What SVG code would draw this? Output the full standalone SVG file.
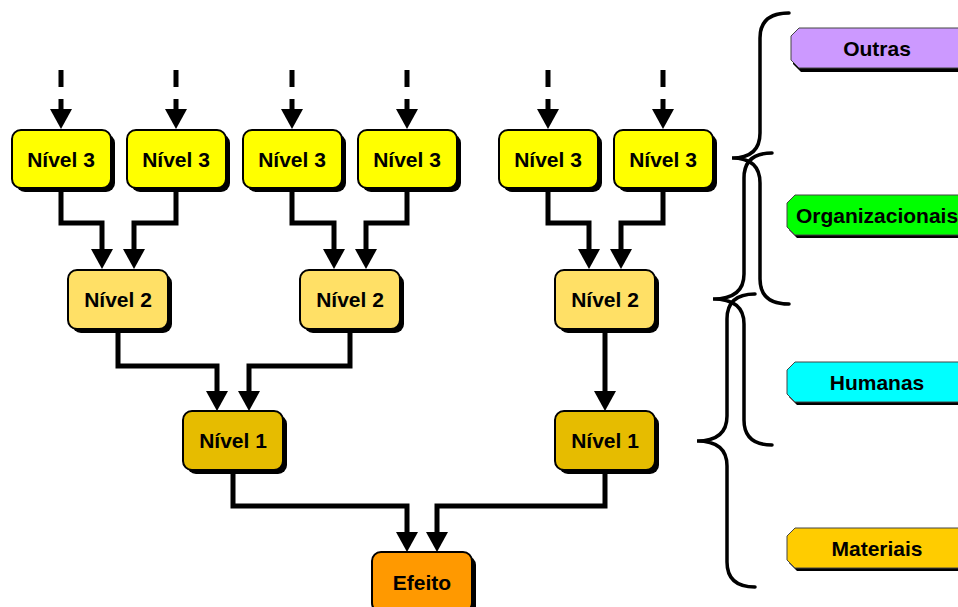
<svg xmlns="http://www.w3.org/2000/svg" width="958" height="607" viewBox="0 0 958 607">
<defs>
<style>
text{font-family:"Liberation Sans",Arial,sans-serif;font-weight:bold;font-size:21px;fill:#000;text-anchor:middle}
.sh{fill:#000}
.box{stroke:#000;stroke-width:2}
.l3{fill:#FFFF00}
.l2{fill:#FFE066}
.l1{fill:#E6BC00}
.ef{fill:#FF9900}
.conn{fill:none;stroke:#000;stroke-width:5;stroke-linejoin:miter}
.dash{stroke-dasharray:17 12}
.brace{fill:none;stroke:#000;stroke-width:3.5;stroke-linecap:round}
.lab{stroke:#444;stroke-width:1}
</style>
<marker id="ah" viewBox="0 0 20 22" refX="0" refY="11" markerWidth="20" markerHeight="22" markerUnits="userSpaceOnUse" orient="auto">
<path d="M0,0 L20,11 L0,22 Z" fill="#000"/>
</marker>
</defs>
<rect width="958" height="607" fill="#fff"/>

<g id="connectors">
<path class="conn dash" d="M61,70 V109" marker-end="url(#ah)"/>
<path class="conn dash" d="M176,70 V109" marker-end="url(#ah)"/>
<path class="conn dash" d="M292,70 V109" marker-end="url(#ah)"/>
<path class="conn dash" d="M407,70 V109" marker-end="url(#ah)"/>
<path class="conn dash" d="M548,70 V109" marker-end="url(#ah)"/>
<path class="conn dash" d="M663,70 V109" marker-end="url(#ah)"/>
<path class="conn" d="M61,188 V223 H102 V249" marker-end="url(#ah)"/>
<path class="conn" d="M176,188 V223 H134 V249" marker-end="url(#ah)"/>
<path class="conn" d="M292,188 V223 H334 V249" marker-end="url(#ah)"/>
<path class="conn" d="M407,188 V223 H366 V249" marker-end="url(#ah)"/>
<path class="conn" d="M548,188 V223 H589 V249" marker-end="url(#ah)"/>
<path class="conn" d="M663,188 V223 H621 V249" marker-end="url(#ah)"/>
<path class="conn" d="M118,329 V366 H217 V391" marker-end="url(#ah)"/>
<path class="conn" d="M350,329 V366 H249 V391" marker-end="url(#ah)"/>
<path class="conn" d="M605,329 V391" marker-end="url(#ah)"/>
<path class="conn" d="M233,470 V506 H407 V532" marker-end="url(#ah)"/>
<path class="conn" d="M605,470 V506 H437 V532" marker-end="url(#ah)"/>
</g>

<g id="n3a"><rect class="sh" x="16" y="134" width="99" height="58" rx="9"/><rect class="box l3" x="12" y="130" width="99" height="58" rx="9"/><text x="61" y="166.5">Nível 3</text></g>
<g id="n3b"><rect class="sh" x="131" y="134" width="99" height="58" rx="9"/><rect class="box l3" x="127" y="130" width="99" height="58" rx="9"/><text x="176" y="166.5">Nível 3</text></g>
<g id="n3c"><rect class="sh" x="247" y="134" width="99" height="58" rx="9"/><rect class="box l3" x="243" y="130" width="99" height="58" rx="9"/><text x="292" y="166.5">Nível 3</text></g>
<g id="n3d"><rect class="sh" x="362" y="134" width="99" height="58" rx="9"/><rect class="box l3" x="358" y="130" width="99" height="58" rx="9"/><text x="407" y="166.5">Nível 3</text></g>
<g id="n3e"><rect class="sh" x="503" y="134" width="99" height="58" rx="9"/><rect class="box l3" x="499" y="130" width="99" height="58" rx="9"/><text x="548" y="166.5">Nível 3</text></g>
<g id="n3f"><rect class="sh" x="618" y="134" width="99" height="58" rx="9"/><rect class="box l3" x="614" y="130" width="99" height="58" rx="9"/><text x="663" y="166.5">Nível 3</text></g>

<g id="n2a"><rect class="sh" x="72" y="274" width="100" height="59" rx="9"/><rect class="box l2" x="68" y="270" width="100" height="59" rx="9"/><text x="118" y="306.5">Nível 2</text></g>
<g id="n2b"><rect class="sh" x="304" y="274" width="100" height="59" rx="9"/><rect class="box l2" x="300" y="270" width="100" height="59" rx="9"/><text x="350" y="306.5">Nível 2</text></g>
<g id="n2c"><rect class="sh" x="559" y="274" width="100" height="59" rx="9"/><rect class="box l2" x="555" y="270" width="100" height="59" rx="9"/><text x="605" y="306.5">Nível 2</text></g>

<g id="n1a"><rect class="sh" x="187" y="415" width="100" height="59" rx="9"/><rect class="box l1" x="183" y="411" width="100" height="59" rx="9"/><text x="233" y="447.5">Nível 1</text></g>
<g id="n1b"><rect class="sh" x="559" y="415" width="100" height="59" rx="9"/><rect class="box l1" x="555" y="411" width="100" height="59" rx="9"/><text x="605" y="447.5">Nível 1</text></g>

<g id="efeito"><rect class="sh" x="376" y="556" width="100" height="60" rx="9"/><rect class="box ef" x="372" y="552" width="100" height="60" rx="9"/><text x="422" y="589.5">Efeito</text></g>

<g id="braces">
<path class="brace" d="M789,13 Q760,13 760,38 L760,133 Q760,158 732,158 Q760,158 760,183 L760,279 Q760,304 789,304"/>
<path class="brace" d="M772,153 Q744,153 744,178 L744,274 Q744,299 713,299 Q744,299 744,324 L744,420 Q744,445 772,445"/>
<path class="brace" d="M755,294 Q727,294 727,319 L727,416 Q727,441 697,441 Q727,441 727,466 L727,562 Q727,587 755,587"/>
</g>

<g id="outras"><polygon class="sh" points="801,31 975,31 975,72 801,72 793,64 793,39"/><polygon class="lab" fill="#CC99FF" points="799,28 975,28 975,68 799,68 791,60 791,36"/><text x="877" y="56">Outras</text></g>
<g id="organizacionais"><polygon class="sh" points="797,198 975,198 975,238 797,238 789,230 789,206"/><polygon class="lab" fill="#00FF00" points="795,195 975,195 975,235 795,235 787,227 787,203"/><text x="877" y="222.5">Organizacionais</text></g>
<g id="humanas"><polygon class="sh" points="797,365 975,365 975,405 797,405 789,397 789,373"/><polygon class="lab" fill="#00FFFF" points="795,362 975,362 975,402 795,402 787,394 787,370"/><text x="877" y="389.5">Humanas</text></g>
<g id="materiais"><polygon class="sh" points="797,531 975,531 975,571 797,571 789,563 789,539"/><polygon class="lab" fill="#FFCC00" points="795,528 975,528 975,568 795,568 787,560 787,536"/><text x="877" y="555.5">Materiais</text></g>
</svg>
